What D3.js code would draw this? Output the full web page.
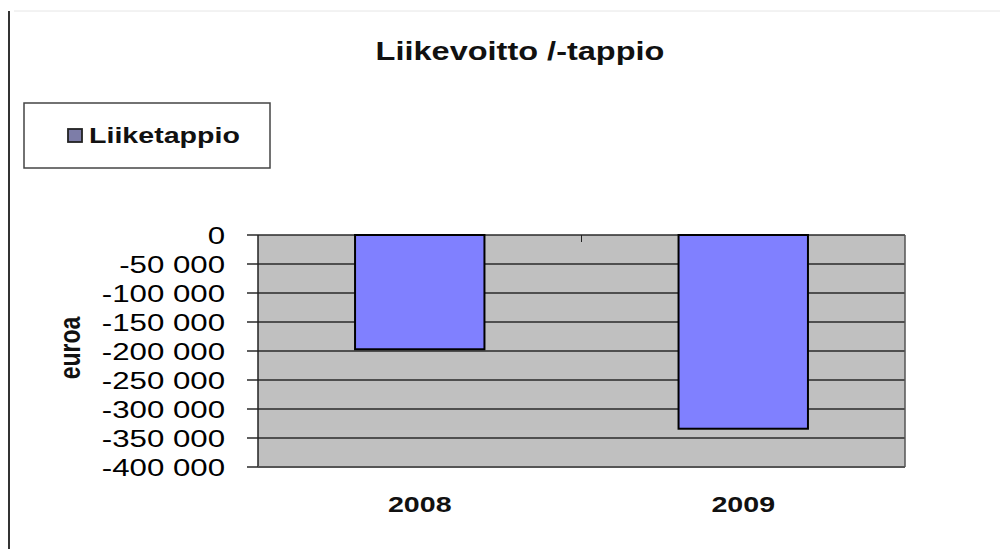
<!DOCTYPE html>
<html><head><meta charset="utf-8">
<script src="https://cdn.jsdelivr.net/npm/d3@7"></script>
<style>body{margin:0;background:#fff}svg{display:block}</style>
</head><body>
<svg id="c" width="1005" height="549"></svg>
<script>
const title = "Liikevoitto /-tappio";
const seriesName = "Liiketappio";
const yAxisLabel = "euroa";
const categories = ["2008", "2009"];
const values = [-197000, -334000];
const yTicks = [0, -50000, -100000, -150000, -200000, -250000, -300000, -350000, -400000];

const svg = d3.select("#c");
const m = {left: 258, right: 905, top: 235, bottom: 467};
const font = "Arial, 'Liberation Sans', sans-serif";
const SX = 1.3; // horizontal stretch of text in the original picture

// frame lines
svg.append("line").attr("x1", 9).attr("x2", 9).attr("y1", 11).attr("y2", 549)
  .attr("stroke", "#333").attr("stroke-width", 2);
svg.append("line").attr("x1", 14).attr("x2", 1000).attr("y1", 11).attr("y2", 11)
  .attr("stroke", "#e6e6e6").attr("stroke-width", 1);

const x = d3.scaleBand().domain(categories).range([m.left, m.right]).paddingInner(0.6).paddingOuter(0.3);
const xb = d3.scaleBand().domain(categories).range([m.left, m.right]);
const y = d3.scaleLinear().domain([0, -400000]).range([m.top, m.bottom]);

// plot background
svg.append("rect").attr("x", m.left).attr("y", m.top)
  .attr("width", m.right - m.left).attr("height", m.bottom - m.top)
  .attr("fill", "#c0c0c0");

// gridlines
svg.append("g").selectAll("line").data(yTicks).join("line")
  .attr("x1", m.left - 11).attr("x2", m.right)
  .attr("y1", d => y(d)).attr("y2", d => y(d))
  .attr("stroke", "#2a2a2a").attr("stroke-width", 1.3);

// category tick at top between bands
svg.append("line").attr("x1", xb("2009")).attr("x2", xb("2009"))
  .attr("y1", m.top).attr("y2", m.top + 7).attr("stroke", "#222").attr("stroke-width", 1);

// bars
svg.append("g").selectAll("rect").data(values).join("rect")
  .attr("x", (d, i) => x(categories[i]))
  .attr("width", x.bandwidth())
  .attr("y", d => y(Math.max(0, d)))
  .attr("height", d => Math.abs(y(d) - y(0)))
  .attr("fill", "#8080ff").attr("stroke", "#000").attr("stroke-width", 2);

// axis lines
svg.append("line").attr("x1", m.left).attr("x2", m.left).attr("y1", m.top).attr("y2", m.bottom)
  .attr("stroke", "#222").attr("stroke-width", 1.5);
svg.append("line").attr("x1", m.right).attr("x2", m.right).attr("y1", m.top).attr("y2", m.bottom)
  .attr("stroke", "#555").attr("stroke-width", 1.5);
svg.append("line").attr("x1", m.left).attr("x2", m.right).attr("y1", m.bottom).attr("y2", m.bottom)
  .attr("stroke", "#555").attr("stroke-width", 2);

// y tick labels
const fmt = v => d3.format(",")(v).replace(/,/g, " ").replace("−", "-");
svg.append("g").selectAll("text").data(yTicks).join("text")
  .attr("transform", d => `translate(225,${y(d)}) scale(${SX},1)`)
  .attr("dy", "0.36em")
  .attr("text-anchor", "end").attr("font-family", font).attr("font-size", 24)
  .attr("fill", "#000").text(d => fmt(d));

// x labels
svg.append("g").selectAll("text").data(categories).join("text")
  .attr("transform", d => `translate(${xb(d) + xb.bandwidth() / 2},512) scale(${SX},1)`)
  .attr("text-anchor", "middle").attr("font-family", font).attr("font-size", 22)
  .attr("font-weight", "bold").attr("fill", "#111").text(d => d);

// y axis title
svg.append("text").attr("transform", `translate(80,348) scale(${SX},1) rotate(-90)`)
  .attr("text-anchor", "middle").attr("font-family", font).attr("font-size", 23)
  .attr("font-weight", "bold").attr("fill", "#111").text(yAxisLabel);

// title
svg.append("text").attr("transform", `translate(520,60) scale(${SX},1)`).attr("text-anchor", "middle")
  .attr("font-family", font).attr("font-size", 25).attr("font-weight", "bold")
  .attr("fill", "#111").text(title);

// legend
svg.append("rect").attr("x", 24).attr("y", 103).attr("width", 246).attr("height", 65)
  .attr("fill", "#fff").attr("stroke", "#444").attr("stroke-width", 1.5);
svg.append("rect").attr("x", 68).attr("y", 129).attr("width", 14).attr("height", 13)
  .attr("fill", "#7d7da8").attr("stroke", "#222").attr("stroke-width", 1.8);
svg.append("text").attr("transform", `translate(89,143) scale(${SX},1)`).attr("font-family", font)
  .attr("font-size", 22).attr("font-weight", "bold").attr("fill", "#111").text(seriesName);
</script>
</body></html>
